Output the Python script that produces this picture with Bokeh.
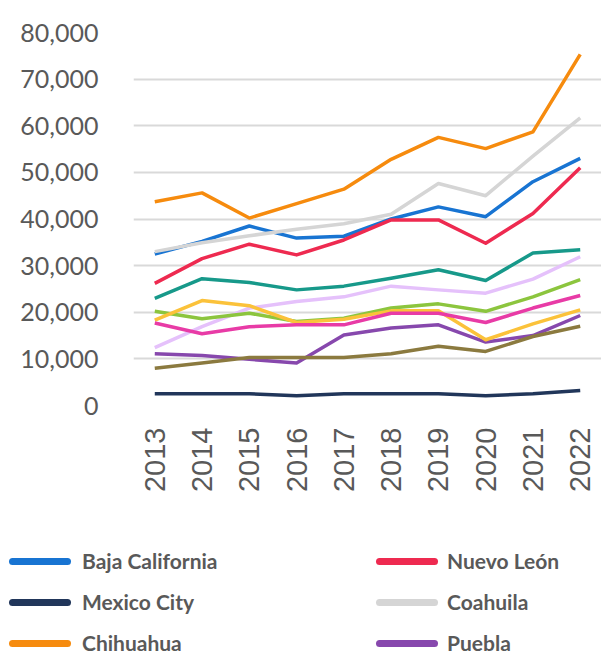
from bokeh.plotting import figure
from bokeh.models import ColumnDataSource, Range1d, FixedTicker, NumeralTickFormatter, Div
from bokeh.layouts import column
from bokeh.embed import file_html
from bokeh.resources import INLINE
import math

years = ["2013", "2014", "2015", "2016", "2017", "2018", "2019", "2020", "2021", "2022"]

baja_california = [32500, 35200, 38500, 35900, 36300, 40000, 42600, 40500, 48000, 53000]
nuevo_leon = [26200, 31500, 34600, 32300, 35500, 39800, 39800, 34800, 41200, 51000]
mexico_city = [2500, 2500, 2500, 2100, 2500, 2500, 2500, 2100, 2500, 3200]
coahuila = [33000, 34900, 36400, 37800, 39000, 41000, 47600, 45000, 53500, 61700]
chihuahua = [43700, 45600, 40200, 43300, 46400, 52800, 57500, 55100, 58700, 75300]
puebla = [11100, 10700, 9900, 9100, 15100, 16600, 17300, 13600, 15000, 19300]
tamaulipas = [23000, 27200, 26400, 24800, 25600, 27300, 29100, 26800, 32700, 33400]
jalisco = [12400, 16900, 20900, 22300, 23300, 25600, 24800, 24100, 27100, 31900]
sonora = [20200, 18600, 19800, 18000, 18700, 20900, 21800, 20200, 23300, 27000]
queretaro = [18300, 22500, 21400, 17800, 18500, 20300, 20300, 14100, 17500, 20500]
guanajuato = [17700, 15400, 16900, 17300, 17300, 19800, 19800, 17800, 20900, 23600]
state_of_mexico = [8000, 9100, 10300, 10300, 10300, 11100, 12700, 11600, 14800, 17000]

y_ticks = [0, 10000, 20000, 30000, 40000, 50000, 60000, 70000, 80000]

series = [
    ("Baja California", baja_california, "#1874d2"),
    ("Nuevo León", nuevo_leon, "#ee2a50"),
    ("Mexico City", mexico_city, "#21365a"),
    ("Coahuila", coahuila, "#d5d5d5"),
    ("Puebla", puebla, "#8748ad"),
    ("Tamaulipas", tamaulipas, "#17998a"),
    ("Jalisco", jalisco, "#e5c1fb"),
    ("Sonora", sonora, "#8cc53e"),
    ("Querétaro", queretaro, "#fbc23a"),
    ("Guanajuato", guanajuato, "#e83ba6"),
    ("State of Mexico", state_of_mexico, "#8b7a3f"),
    ("Chihuahua", chihuahua, "#f68b0e"),
]
colors = {name: color for name, _, color in series}

# legend entries (row-major, two columns) as visible in the reference
legend_names = ["Baja California", "Nuevo León", "Mexico City", "Coahuila", "Chihuahua", "Puebla"]

p = figure(x_range=years, y_range=Range1d(0, 80000), width=601, height=530,
           output_backend="svg", toolbar_location=None,
           min_border_left=133, min_border_right=0, min_border_top=32, min_border_bottom=125)
p.outline_line_color = None
p.background_fill_color = "white"
p.border_fill_color = "white"
p.x_range.range_padding_units = "absolute"
p.x_range.range_padding = -0.05

for name, vals, color in series:
    src = ColumnDataSource(dict(x=years, y=vals))
    p.line("x", "y", source=src, line_color=color, line_width=3.5, line_join="round")

# axes
p.yaxis.ticker = FixedTicker(ticks=y_ticks)
p.yaxis.formatter = NumeralTickFormatter(format="0,0")
p.yaxis.axis_line_color = None
p.yaxis.major_tick_line_color = None
p.yaxis.minor_tick_line_color = None
p.yaxis.major_label_standoff = 29
p.yaxis.major_label_text_font = "Lato"
p.yaxis.major_label_text_font_size = "25px"
p.yaxis.major_label_text_color = "#595959"

p.xaxis.axis_line_color = None
p.xaxis.major_tick_line_color = None
p.xaxis.minor_tick_line_color = None
p.xaxis.major_label_orientation = math.pi / 2
p.xaxis.major_label_standoff = 16
p.xaxis.major_label_text_font = "Liberation Sans"
p.xaxis.major_label_text_font_size = "29px"
p.xaxis.major_label_text_color = "#595959"

p.xgrid.grid_line_color = None
p.ygrid.grid_line_color = "#d9d9d9"
p.ygrid.grid_line_width = 2

# legend block below the chart
row_centers = [31, 72, 113]
col_bar_left = [9, 376]
col_text_left = [82, 447]
parts = []
for i, name in enumerate(legend_names):
    r, c = divmod(i, 2)
    cy = row_centers[r]
    parts.append(
        f'<div style="position:absolute;left:{col_bar_left[c]}px;top:{cy - 3.5}px;'
        f'width:62px;height:7px;border-radius:3.5px;background:{colors[name]};"></div>')
    parts.append(
        f'<div style="position:absolute;left:{col_text_left[c]}px;top:{cy - 13}px;'
        f'line-height:26px;white-space:nowrap;">{name}</div>')
html = ('<div style="position:relative;width:601px;height:124px;font-family:Lato,sans-serif;'
        'font-weight:bold;font-size:21px;color:#595959;background:white;">'
        + "".join(parts) + '</div>')
legend_div = Div(text=html, width=601, height=124, margin=(0, 0, 0, 0))

layout = column(p, legend_div, spacing=0)
open("out.html", "w").write(file_html(layout, INLINE))
